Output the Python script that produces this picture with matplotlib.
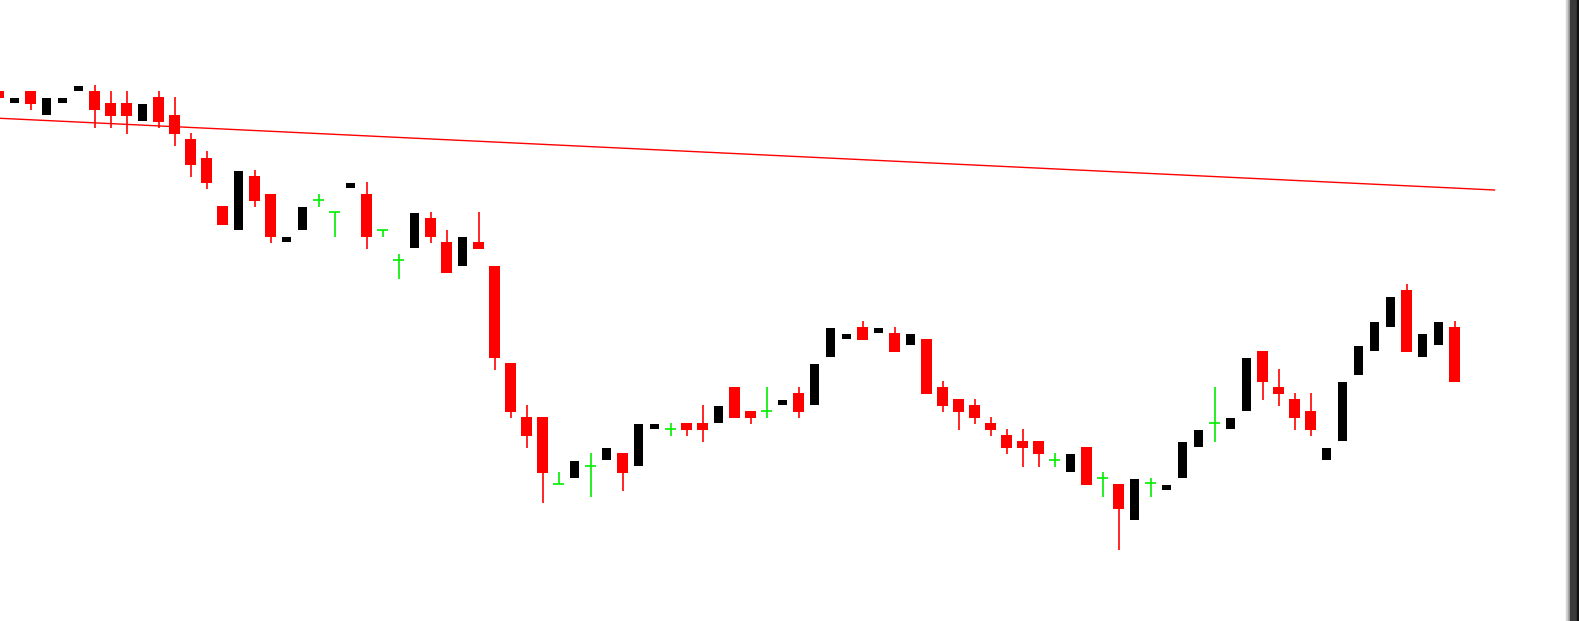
import numpy as np
import matplotlib
matplotlib.use("Agg")
import matplotlib.pyplot as plt
from matplotlib.patches import Rectangle

# OHLC bars, oldest first (index starts at -1: the first bar is cut by the left edge)
opens = [530, 518, 530, 506, 518, 530, 530, 518, 518, 500, 524, 506, 482, 463, 415, 391.3,
         445, 427, 379.3, 391, 420.7, 408.7, 433, 427, 390.7, 360.7, 373, 403, 379, 355,
         379, 355, 258, 204, 204, 136.7, 143.3, 154.7, 161.3, 168, 155.3, 192.3, 191.7, 198,
         198, 198.3, 234, 210, 210, 216.3, 228, 216.3, 264.3, 282.3, 294, 288.3, 288, 276.3,
         282, 234, 222, 216, 198, 186, 180, 180, 160.7, 149.3, 174, 142.7, 137, 101, 137.7,
         131, 143, 174, 197.7, 192.3, 210.3, 270, 234, 222, 210, 161.3, 180.3, 246.3, 270.3,
         294.3, 331, 264.3, 276.3, 294]
highs = [530, 523, 530, 523, 523, 535, 536, 530, 530, 517, 530, 524, 488, 470, 415, 450,
         451, 427, 384, 414, 427, 408.7, 438, 439, 390.7, 366.7, 408, 409, 391, 384,
         409, 355, 258, 216, 204, 149.3, 160, 168, 173, 168, 197, 197, 198, 198,
         216, 215, 234, 210, 234, 221, 234, 257, 293, 287, 300, 293, 294, 287,
         282, 240, 222, 222, 204, 192, 192, 180, 168, 167, 174, 148.7, 137, 142, 143,
         136, 179, 191, 234, 203, 263, 270, 252, 228, 228, 173, 239, 275, 299,
         324, 337, 287, 299, 300]
lows = [523, 518, 511.3, 506, 518, 530, 493.3, 493.3, 487.3, 500, 493.3, 475.3, 444.3, 432.3, 396.3, 391.3,
        414.3, 378.3, 379.3, 391, 414.3, 384.3, 433, 372.3, 384.3, 342.3, 373, 378.3, 348.3, 355,
        372.3, 251.3, 203.3, 173.3, 118.3, 136.7, 143.3, 124.3, 161.3, 130.3, 155.3, 192.3, 185.3, 185.3,
        179.3, 198.3, 203.3, 197.3, 203.3, 216.3, 203.3, 216.3, 264.3, 282.3, 281.3, 288.3, 269.3, 276.3,
        227.3, 209.3, 191.3, 197.3, 185.3, 167.3, 154.3, 154.3, 154.3, 149.3, 136.3, 124.3, 71.3, 101, 124,
        131, 143, 174, 179.3, 192.3, 210.3, 221.3, 215.3, 191.3, 185.3, 161.3, 180.3, 246.3, 270.3,
        294.3, 269.3, 264.3, 276.3, 239.3]
closes = [523, 523, 517.3, 523, 523, 535, 511.3, 505, 505, 517, 499, 487.3, 456.3, 438.3, 396.3, 450,
          420.3, 384.3, 384, 414, 420.7, 408.7, 438, 384.3, 390.7, 360.7, 408, 384.3, 348.3, 384,
          372.3, 263.3, 209.3, 185.3, 148.3, 136.7, 160, 154.7, 173, 148.3, 197, 197, 191.7, 191.3,
          191.3, 215, 203.3, 203.3, 210, 221, 209.3, 257, 293, 287, 281.3, 293, 269.3, 287,
          227.3, 215.3, 209.3, 203.3, 191.3, 173.3, 173.3, 167.3, 160.7, 167, 136.3, 142.7, 112.3, 142, 137.7,
          136, 179, 191, 197.7, 203, 263, 239.3, 227.3, 203.3, 191.3, 173, 239, 275, 299,
          324, 269.3, 287, 299, 239.3]

# descending trend line (bar index, price)
trend_x = [-0.9, 92.5]
trend_y = [502.7, 431.0]

UP, DOWN, DOJI = "#000000", "#ff0000", "#00ee00"

o = np.array(opens); h = np.array(highs); l = np.array(lows); c = np.array(closes)
idx = np.arange(len(o)) - 1

fig = plt.figure(figsize=(15.79, 6.21), dpi=100)
ax = fig.add_axes([0, 0, 1566 / 1579, 1])
ax.set_xlim(-0.90625, (1566 - 14.5) / 16)
ax.set_ylim(0, 621)
ax.axis("off")

up = c > o
down = c < o
doji = c == o

# wicks
ax.vlines(idx[down], l[down], h[down], color=DOWN, lw=1.2, zorder=1)
ax.vlines(idx[doji], l[doji], h[doji], color=DOJI, lw=1.2, zorder=1)
ax.hlines(o[doji], idx[doji] - 0.34, idx[doji] + 0.34, color=DOJI, lw=1.2, zorder=1)

# bodies
ax.bar(idx[down], o[down] - c[down], bottom=c[down], width=11 / 16, color=DOWN,
       linewidth=0, zorder=2)
ax.bar(idx[up], c[up] - o[up], bottom=o[up], width=9 / 16, color=UP,
       linewidth=0, zorder=2)

ax.plot(trend_x, trend_y, color=DOWN, lw=1, zorder=0)

# window frame on the right
for x0, w, col in [(1566, 2, "#d4d4d4"), (1568, 2, "#a8a8a8"),
                   (1570, 7, "#3a3a3a"), (1577, 2, "#111111")]:
    fig.patches.append(Rectangle((x0 / 1579, 0), w / 1579, 1, transform=fig.transFigure,
                                 color=col, zorder=5))

fig.savefig("out.png", dpi=100)
